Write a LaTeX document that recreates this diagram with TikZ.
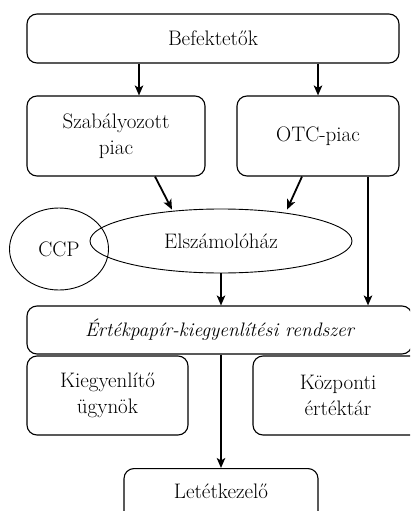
\documentclass[tikz,border=0pt]{standalone}
\usepackage{fontspec}
\usetikzlibrary{shapes.geometric,arrows.meta}
\begin{document}
\begin{tikzpicture}[x=1pt,y=-1pt,
  every node/.style={font=\fontsize{21}{26}\selectfont, align=center, inner sep=0pt},
  box/.style={draw, line width=1.1pt, rounded corners=10pt},
  oval/.style={draw, ellipse, line width=0.9pt},
  arr/.style={line width=1.8pt, -{Stealth[length=10pt,width=8.5pt,inset=2.5pt]}}]
\clip (0,0) rectangle (410,511);
\node[box, minimum width=372pt, minimum height=49pt] (bef) at (213,38.5) {Befektetők};
\node[box, minimum width=178pt, minimum height=80pt] (szab) at (116,136) {Szabályozott\\piac};
\node[box, minimum width=162pt, minimum height=80pt] (otc) at (318,136) {OTC-piac};
\node[oval, minimum width=99pt, minimum height=82pt] (ccp) at (59,249) {};
\node[oval, minimum width=262pt, minimum height=64pt] (elsz) at (221,241) {Elszámolóház};
\node at (ccp.center) (ccpt) {CCP};
\node[box, minimum width=385pt, minimum height=48pt, font=\fontsize{19.5}{26}\selectfont\itshape] (ert) at (219.5,330) {Értékpapír-kiegyenlítési rendszer};
\node[box, minimum width=161pt, minimum height=79pt] (kieg) at (107.5,395.5) {Kiegyenlítő\\ügynök};
\node[box, minimum width=170pt, minimum height=79pt] (kozp) at (338,395.5) {Központi\\értéktár};
\node[box, minimum width=194pt, minimum height=70pt, anchor=north] (letet) at (221,468) {};
\node (letett) at (221,491) {Letétkezelő};
\coordinate (c1) at (139,0);
\coordinate (c2) at ([xshift=50pt]otc.south);
\draw[arr] (bef.south -| c1) -- (szab.north -| c1);
\draw[arr] (bef.south -| otc.north) -- (otc.north);
\draw[arr] ([xshift=39pt]szab.south) -- ([xshift=-49pt,yshift=-1pt]elsz.north);
\draw[arr] ([xshift=-16pt]otc.south) -- ([xshift=66pt,yshift=-1pt]elsz.north);
\draw[arr] (c2) -- (ert.north -| c2);
\draw[arr] (elsz.south) -- (ert.north -| elsz.south);
\draw[arr] (ert.south -| letet.north) -- (letet.north);
\end{tikzpicture}
\end{document}
